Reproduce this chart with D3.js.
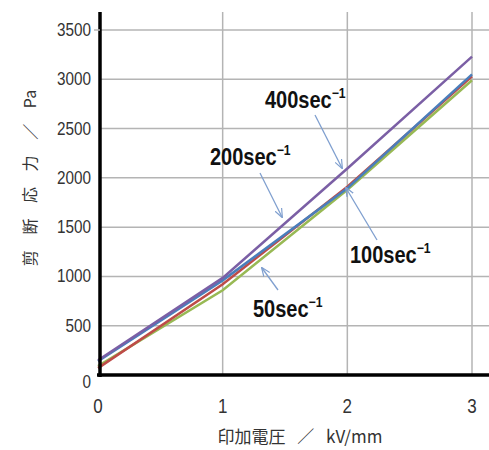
<!DOCTYPE html>
<html>
<head>
<meta charset="utf-8">
<script src="https://cdn.jsdelivr.net/npm/d3@7"></script>
<style>
body { margin:0; background:#fff; }
text { font-family: "Liberation Sans", Arial, sans-serif; fill:#222; }
.jp { font-family: "Noto Sans CJK JP", sans-serif; }
</style>
</head>
<body>
<svg id="chart" width="489" height="450"></svg>
<script>
// data
var voltages = [0, 1, 2, 3];            // kV/mm
var rates = ["50", "100", "200", "400"]; // sec-1
var stress50  = [90, 860, 1880, 2990];
var stress100 = [140, 960, 1895, 3050];
var stress200 = [70, 920, 1910, 3030];
var stress400 = [150, 985, 2095, 3230];
var colors = ["#98b954", "#4a7ebb", "#be4b48", "#7b5fa5"];
var xticks = [0, 1, 2, 3];
var yticks = [0, 500, 1000, 1500, 2000, 2500, 3000, 3500];

var allseries = [stress50, stress100, stress200, stress400];
// draw order: green, red, blue, purple
var draworder = [0, 2, 1, 3];

var svg = d3.select("#chart");
var x = d3.scaleLinear().domain([0, 3]).range([98, 472]);
var y = d3.scaleLinear().domain([0, 3500]).range([375, 30]);

// grid
svg.selectAll(".hgrid").data(yticks.slice(1)).enter().append("line")
	.attr("x1", 100).attr("x2", 489)
	.attr("y1", d => y(d)).attr("y2", d => y(d))
	.style("stroke", "#b4b4b4").style("stroke-width", 1.5);
svg.selectAll(".vgrid").data(xticks.slice(1)).enter().append("line")
	.attr("x1", d => x(d)).attr("x2", d => x(d))
	.attr("y1", 12).attr("y2", 375)
	.style("stroke", "#b4b4b4").style("stroke-width", 1.5);

// series
var line = d3.line().x((d, i) => x(voltages[i])).y(d => y(d));
for (var k of draworder) {
	svg.append("path")
		.attr("d", line(allseries[k]))
		.style("fill", "none")
		.style("stroke", colors[k])
		.style("stroke-width", 2.5);
}

// axes
svg.append("line").attr("x1", 100).attr("x2", 100).attr("y1", 12).attr("y2", 377)
	.style("stroke", "#000").style("stroke-width", 3.5);
svg.append("line").attr("x1", 97).attr("x2", 489).attr("y1", y(0)).attr("y2", y(0))
	.style("stroke", "#000").style("stroke-width", 3.5);
svg.append("line").attr("x1", 94).attr("x2", 100).attr("y1", y(3500)).attr("y2", y(3500))
	.style("stroke", "#b4b4b4").style("stroke-width", 1.5);

// tick labels (narrow look)
svg.selectAll(".ylab").data(yticks).enter().append("text")
	.attr("transform", d => "translate(91," + (d == 0 ? y(d) + 13 : y(d) + 6) + ") scale(0.85,1)")
	.attr("text-anchor", "end")
	.style("font-size", "18px")
	.style("fill", "#333")
	.text(d => d);
svg.selectAll(".xlab").data(xticks).enter().append("text")
	.attr("transform", d => "translate(" + x(d) + ",413) scale(0.85,1)")
	.attr("text-anchor", "middle")
	.style("font-size", "20px")
	.style("fill", "#333")
	.text(d => d);

// axis titles
var ytitle = svg.append("text")
	.attr("class", "jp")
	.attr("transform", "translate(36,178) rotate(-90)")
	.attr("text-anchor", "middle")
	.style("font-size", "16px")
	.style("fill", "#333");
ytitle.append("tspan").style("letter-spacing", "4px").style("word-spacing", "4px").text("剪 断 応 力 ／ ");
ytitle.append("tspan").text("Pa");
svg.append("text")
	.attr("class", "jp")
	.attr("x", 300).attr("y", 443)
	.attr("text-anchor", "middle")
	.style("font-size", "17px")
	.style("word-spacing", "8px")
	.style("fill", "#333")
	.text("印加電圧 ／ kV/mm");

// annotations
var labelpos = [[253, 317], [350, 263], [210, 165], [265, 108]];
var arrows = [[278, 290, 262, 268], [377, 240, 346, 188], [260, 173, 282, 217], [315, 115, 342, 168]];

svg.append("defs").append("marker")
	.attr("id", "ah").attr("viewBox", "0 0 10 10")
	.attr("refX", 9).attr("refY", 5)
	.attr("markerWidth", 7).attr("markerHeight", 7)
	.attr("orient", "auto")
	.append("path").attr("d", "M0,1 L10,5 L0,9")
	.style("fill", "none").style("stroke", "#7f9fcf").style("stroke-width", 1.3);

for (var i = 0; i < rates.length; i++) {
	var t = svg.append("text")
		.attr("transform", "translate(" + labelpos[i][0] + "," + labelpos[i][1] + ") scale(0.87,1)")
		.style("font-size", "23px")
		.style("font-weight", "bold")
		.style("fill", "#111");
	t.append("tspan").text(rates[i] + "sec");
	t.append("tspan").attr("dy", -10).style("font-size", "14px").text("−1");
	svg.append("line")
		.attr("x1", arrows[i][0]).attr("y1", arrows[i][1])
		.attr("x2", arrows[i][2]).attr("y2", arrows[i][3])
		.style("stroke", "#7f9fcf").style("stroke-width", 1.3)
		.attr("marker-end", "url(#ah)");
}
</script>
</body>
</html>
